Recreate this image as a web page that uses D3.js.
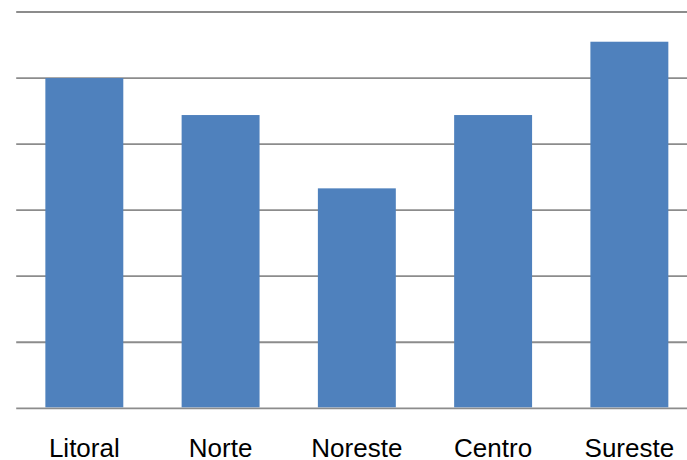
<!DOCTYPE html>
<html>
<head>
<meta charset="utf-8">
<script src="https://cdn.jsdelivr.net/npm/d3@7"></script>
<style>
  html, body { margin: 0; padding: 0; background: #fff; }
  svg { display: block; }
</style>
</head>
<body>
<div id="chart"></div>
<script>
// data (no value labels, so units are grid steps)
const regiones = ["Litoral", "Norte", "Noreste", "Centro", "Sureste"]
const valores = [5.0, 4.44, 3.33, 4.44, 5.55]
const gridTicks = [0, 1, 2, 3, 4, 5, 6]

const width = 687
const height = 460
const plotLeft = 16.2, plotRight = 697.5
const plotTop = 12, plotBottom = 408.3

const x = d3.scaleBand()
    .domain(regiones)
    .range([plotLeft, plotRight])
    .paddingInner(0.428)
    .paddingOuter(0.214)

const y = d3.scaleLinear()
    .domain([0, 6])
    .range([plotBottom, plotTop])

const svg = d3.select("#chart").append("svg")
    .attr("width", width)
    .attr("height", height)

// horizontal gridlines, drawn below the bars
svg.append("g")
    .selectAll("line")
    .data(gridTicks)
    .join("line")
    .attr("x1", plotLeft)
    .attr("x2", plotRight)
    .attr("y1", d => y(d))
    .attr("y2", d => y(d))
    .attr("stroke", "#8c8c8c")
    .attr("stroke-width", 1.8)

svg.append("g")
    .selectAll("rect")
    .data(valores)
    .join("rect")
    .attr("x", (d, i) => x(regiones[i]))
    .attr("width", x.bandwidth())
    .attr("y", d => y(d))
    .attr("height", d => y(0) - y(d) - 1)
    .attr("fill", "#4f81bd")

// category labels
svg.append("g")
    .attr("font-family", "'Liberation Sans', Arial, sans-serif")
    .attr("font-size", 26)
    .attr("fill", "#000")
    .attr("text-anchor", "middle")
    .selectAll("text")
    .data(regiones)
    .join("text")
    .attr("x", d => x(d) + x.bandwidth() / 2)
    .attr("y", 457)
    .text(d => d)
</script>
</body>
</html>
